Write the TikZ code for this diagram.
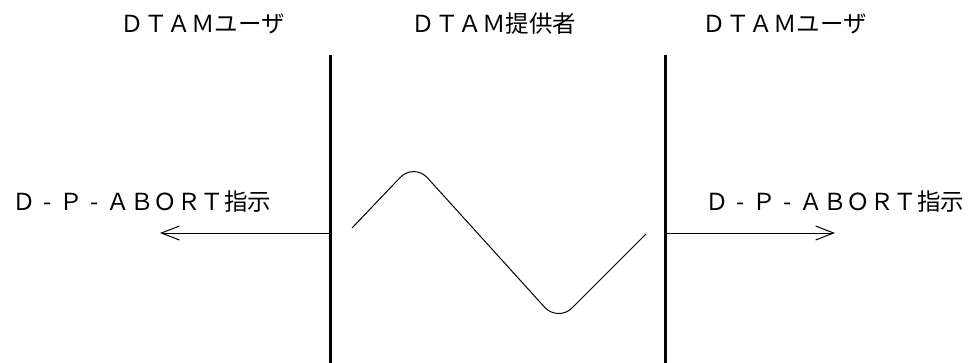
\documentclass[tikz,border=0pt]{standalone}
\usepackage{fontspec}
\newfontfamily\jpfont{Noto Sans CJK JP}
\usetikzlibrary{arrows.meta}
\newcommand{\fwdash}{\makebox[1em][c]{-}}
\begin{document}
\begin{tikzpicture}[x=1pt,y=-1pt,
  lbl/.style={inner sep=0pt,font=\jpfont\fontsize{23.5pt}{26pt}\selectfont},
  wall/.style={line width=3pt},
  sig/.style={line width=1pt,-{Straight Barb[length=18pt,width=14pt,line width=1pt]}},
  wave/.style={line width=1pt,rounded corners=20pt}]
\useasboundingbox (0,0) rectangle (968,362);
% titles
\node[lbl] (tl) at (203,24) {ＤＴＡＭユーザ};
\node[lbl] (tm) at (494,24) {ＤＴＡＭ提供者};
\node[lbl] (tr) at (785,24) {ＤＴＡＭユーザ};
% walls
\coordinate (w1t) at (330,55);
\coordinate (w1b) at (330,363);
\coordinate (w2t) at (665,55);
\coordinate (w2b) at (665,363);
\draw[wall] (w1t) -- (w1b);
\draw[wall] (w2t) -- (w2b);
% labels
\node[lbl] (ll) at (142,202) {Ｄ\fwdash Ｐ\fwdash ＡＢＯＲＴ指示};
\node[lbl] (rl) at (835,202) {Ｄ\fwdash Ｐ\fwdash ＡＢＯＲＴ指示};
% arrows
\coordinate (a1s) at (330,233);
\coordinate (a1e) at (160,233);
\coordinate (a2s) at (665,233);
\coordinate (a2e) at (835,233);
\draw[sig] (a1s) -- (a1e);
\draw[sig] (a2s) -- (a2e);
% wave
\coordinate (v0) at (352,228);
\coordinate (v1) at (414,163);
\coordinate (v2) at (558,322);
\coordinate (v3) at (646,234);
\draw[wave] (v0) -- (v1) -- (v2) -- (v3);
\end{tikzpicture}
\end{document}
